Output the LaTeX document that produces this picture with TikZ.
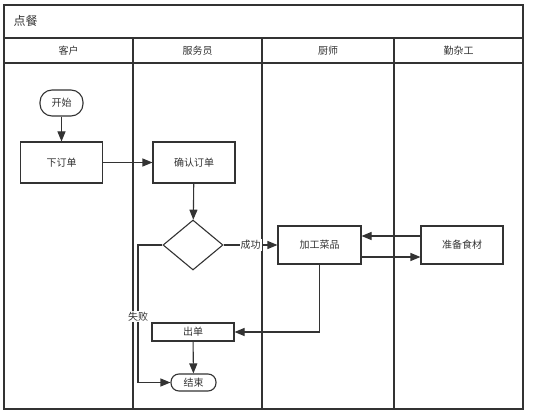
\documentclass[tikz,border=0pt]{standalone}
\usepackage{fontspec}
\newfontfamily\cjk{Noto Sans CJK SC}
\usetikzlibrary{shapes.geometric,arrows.meta}
\definecolor{ink}{HTML}{333333}
\begin{document}
\begin{tikzpicture}[x=1pt,y=-1pt,
        font=\cjk\fontsize{10}{12}\selectfont, text=ink,
        lane/.style={draw=ink,line width=1.4pt},
        proc/.style={draw=ink,line width=1.1pt,fill=white,inner sep=0pt,minimum width=82pt,minimum height=41pt},
        term/.style={draw=ink,line width=1.1pt,fill=white,rounded corners=8pt,inner sep=0pt},
        flow/.style={draw=ink,line width=1.1pt,-{Triangle[length=10pt,width=8pt]}}]
        \useasboundingbox (0,0) rectangle (533,417);
        \draw[lane] (4,5) rectangle (523,409);
        \draw[lane] (4,38) -- (523,38);
        \draw[lane] (4,63) -- (523,63);
        \foreach \x in {133,262,394}
            \draw[lane] (\x,38) -- (\x,409);
        \node[anchor=west,font=\cjk\fontsize{12}{14}\selectfont] (title) at (10,21) {点餐};
        \node (customer) at (68.5,50.5) {客户};
        \node (waiter) at (197.5,50.5) {服务员};
        \node (chef) at (328,50.5) {厨师};
        \node (helper) at (458.5,50.5) {勤杂工};
        \node[term,minimum width=43pt,minimum height=26pt,rounded corners=12pt] (start) at (61.5,103) {开始};
        \node[proc] (order) at (61.5,162.5) {下订单};
        \node[proc] (confirm) at (194,162.5) {确认订单};
        \node[diamond,draw=ink,line width=1.1pt,inner sep=0pt,minimum width=60pt,minimum height=50pt] (check) at (193,245) {};
        \node[proc,minimum width=83pt,minimum height=38pt] (cook) at (319.5,245) {加工菜品};
        \node[proc,minimum height=38pt] (prep) at (462,245) {准备食材};
        \node[proc,minimum height=18pt] (bill) at (193,332) {出单};
        \node[term,minimum width=45pt,minimum height=17pt] (end) at (193.5,382.5) {结束};
        \coordinate (fail) at (138,245);
        \draw[flow] (start) -- (order);
        \draw[flow] (order) -- (confirm);
        \draw[flow] (confirm) -- (check);
        \draw[flow] (check) -- node[fill=white,inner sep=1pt] {成功} (cook);
        \draw[flow] (check.west) -- (fail) |- node[pos=0.26,fill=white,inner sep=1pt] {失败} (end.west);
        \draw[flow] ([yshift=9pt]prep.west) -- ([yshift=9pt]cook.east);
        \draw[flow] ([yshift=-12pt]cook.east) -- ([yshift=-12pt]prep.west);
        \draw[flow] (cook.south) |- (bill.east);
        \draw[flow] (bill) -- (end);
    \end{tikzpicture}
\end{document}
